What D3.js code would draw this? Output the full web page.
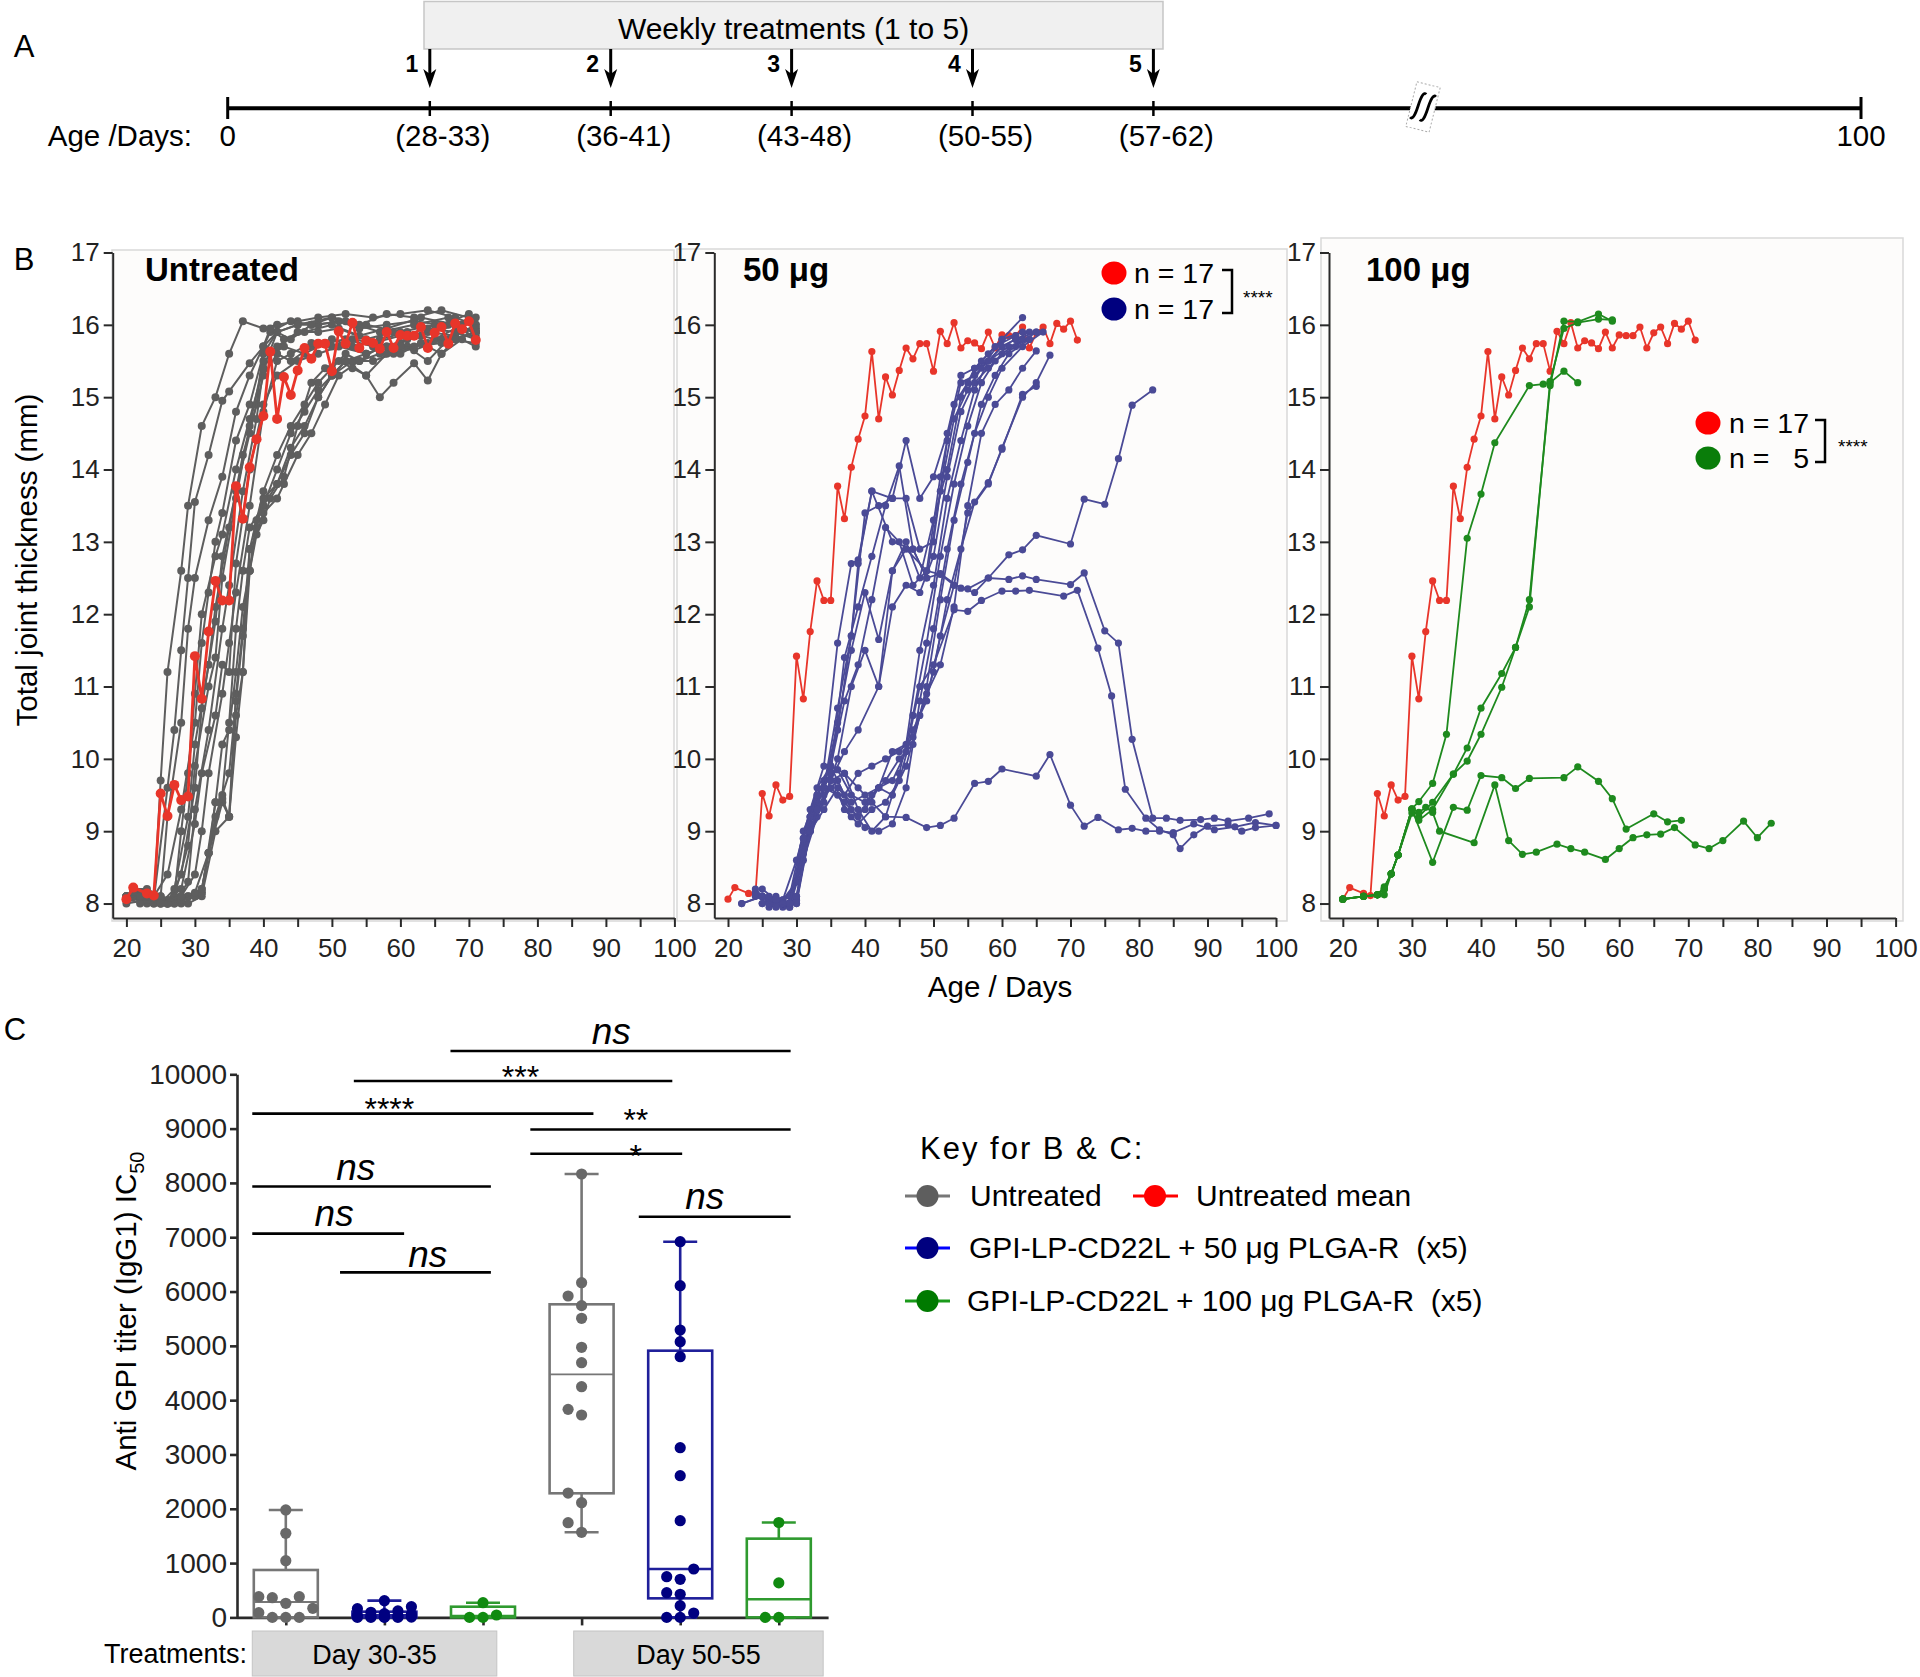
<!DOCTYPE html>
<html><head><meta charset="utf-8">
<script src="https://cdn.jsdelivr.net/npm/d3@7"></script>
<style>
body{margin:0;background:#fff}
svg text{font-family:Arial,"Liberation Sans",Helvetica,sans-serif}
</style></head>
<body>
<svg id="fig" width="1920" height="1677"></svg>
<script>
// ---------------- DATA ----------------
// Panel A
const headerLabel = "Weekly treatments (1 to 5)";
const treatmentNumbers = [1,2,3,4,5];
const treatmentAgeLabels = ["(28-33)","(36-41)","(43-48)","(50-55)","(57-62)"];
const timelineEndLabels = ["0","100"];

// Panel B
const dayTicks = [20,25,30,35,40,45,50,55,60,65,70,75,80,85,90,95,100];
const thicknessTicks = [8,9,10,11,12,13,14,15,16,17];
const panelTitles = ["Untreated","50 \u03bcg","100 \u03bcg"];
const untreatedMeanDays = [20,21,23,24,25,26,27,28,29,30,31,32,33,34,35,36,37,38,39,40,41,42,43,44,45,46,47,48,49,50,51,52,53,54,55,56,57,58,59,60,61,62,63,64,65,66,67,68,69,70,71];
const untreatedMeanValues = [8.06,8.22,8.14,8.11,9.52,9.21,9.64,9.43,9.48,11.42,10.83,11.76,12.46,12.19,12.19,13.77,13.32,14.03,14.42,14.74,15.63,14.70,15.28,15.03,15.37,15.68,15.53,15.74,15.74,15.36,15.91,15.74,16.03,15.68,15.78,15.75,15.67,15.90,15.68,15.86,15.85,15.85,15.97,15.68,15.89,15.97,15.74,16.02,15.94,16.05,15.79];

const untreatedMice = [
 [[20,8.1],[21,8.2],[23,8.15],[24,8.0],[25,9.7],[26,11.2],[28,12.6],[29,13.5],[31,14.6],[33,15.0],[35,15.6],[37,16.05],[40,15.95],[42,16.0],[45,16.05],[48,16.1],[52,16.15],[56,16.1],[60,16.15],[64,16.2],[68,16.1],[71,16.0]],
 [[20,8.05],[22,8.1],[24,8.05],[26,9.6],[27,10.4],[28,11.5],[29,12.5],[30,13.55],[32,14.2],[34,14.95],[35,15.08],[38,15.47],[40,15.7],[41,15.9],[44,16.05],[47,16.0],[50,16.1],[54,16.0],[58,16.15],[62,16.1],[66,16.2],[70,16.1],[71,15.95]],
 [[21,8.2],[23,8.2],[25,8.1],[26,9.2],[28,10.5],[29,11.8],[30,12.5],[32,13.3],[34,13.9],[36,14.8],[38,15.3],[40,15.7],[42,15.9],[45,16.0],[48,16.0],[51,16.05],[54,15.95],[58,16.0],[62,16.05],[66,16.0],[70,16.15]],
 [[20,8.1],[22,8.15],[24,8.1],[26,8.4],[28,9.3],[30,10.5],[31,11.6],[32,12.3],[33,13.0],[34,13.4],[36,14.4],[38,14.9],[40,15.6],[42,15.9],[45,16.0],[50,16.1],[55,16.0],[60,15.9],[65,16.0],[70,16.05]],
 [[21,8.1],[23,8.1],[25,8.05],[27,8.1],[28,9.0],[29,9.8],[30,10.9],[31,12.0],[33,12.8],[34,13.1],[36,14.0],[38,14.7],[40,15.4],[42,15.9],[44,15.8],[47,16.0],[52,16.05],[57,15.9],[62,16.0],[67,16.1],[71,15.8]],
 [[20,8.05],[23,8.1],[25,8.0],[27,8.2],[29,9.2],[30,10.2],[32,11.3],[33,12.1],[35,13.2],[37,14.2],[39,14.9],[40,15.7],[41,15.95],[43,15.8],[46,15.9],[50,16.0],[54,15.85],[58,15.95],[63,16.1],[68,16.0],[71,15.9]],
 [[21,8.15],[24,8.1],[26,8.0],[28,8.4],[30,9.6],[31,10.7],[33,11.9],[34,12.8],[36,13.7],[38,14.5],[40,15.3],[42,15.6],[44,15.5],[47,15.7],[50,15.8],[53,15.7],[57,15.8],[61,15.9],[65,15.8],[69,16.0],[71,15.85]],
 [[20,8.1],[22,8.05],[25,8.05],[27,8.1],[29,8.8],[30,9.9],[32,11.0],[33,11.4],[34,12.5],[36,13.6],[38,14.6],[40,15.5],[43,15.7],[46,15.6],[49,15.75],[52,15.8],[56,15.7],[60,15.75],[64,15.9],[68,15.85],[71,16.0]],
 [[21,8.2],[24,8.1],[26,8.05],[28,8.2],[30,9.1],[31,9.8],[33,10.6],[34,11.3],[35,11.2],[36,12.7],[38,14.0],[40,14.9],[42,15.3],[45,15.5],[48,15.6],[51,15.7],[55,15.6],[58,15.7],[62,15.65],[66,15.8],[71,15.95]],
 [[20,8.0],[23,8.05],[25,8.0],[27,8.0],[29,8.3],[30,9.3],[32,10.4],[34,11.8],[35,12.4],[37,13.7],[39,14.7],[40,15.4],[42,15.7],[45,15.9],[48,15.9],[51,15.95],[55,15.8],[59,15.9],[63,15.85],[67,16.0],[71,16.1]],
 [[21,8.1],[23,8.0],[26,8.0],[28,8.1],[30,8.4],[31,9.0],[32,9.8],[34,10.9],[35,11.6],[36,12.3],[38,13.5],[40,14.8],[42,15.5],[44,15.6],[47,15.75],[50,15.7],[53,15.8],[56,15.75],[60,15.85],[64,15.95],[68,15.9],[71,15.8]],
 [[20,8.05],[24,8.0],[27,8.0],[29,8.1],[31,8.2],[32,8.7],[34,9.5],[35,10.5],[36,11.8],[37,12.6],[38,13.2],[40,13.5],[42,14.0],[44,14.5],[46,14.8],[48,15.1],[50,15.3],[53,15.5],[56,15.5],[59,15.6],[62,15.7],[66,15.75],[71,15.9]],
 [[21,8.1],[24,8.05],[27,8.05],[29,8.1],[31,8.15],[33,9.4],[34,10.2],[35,10.4],[36,11.2],[37,12.1],[38,12.6],[39,13.3],[40,13.5],[42,13.8],[44,14.3],[46,14.6],[48,15.0],[50,15.3],[52,15.5],[55,15.3],[58,15.6],[61,15.7],[64,15.5],[67,15.8],[71,15.75]],
 [[20,8.1],[23,8.05],[26,8.0],[29,8.0],[31,8.1],[33,9.0],[35,9.2],[36,10.3],[37,11.2],[38,12.6],[39,13.1],[40,13.4],[42,13.6],[43,13.8],[45,14.2],[47,14.5],[49,14.9],[51,15.3],[54,15.5],[57,15.6],[60,15.7],[64,15.75],[68,15.8],[71,15.9]],
 [[22,8.0],[25,8.1],[28,8.0],[30,8.1],[31,8.15],[32,8.7],[34,9.4],[35,9.2],[36,10.9],[37,11.8],[38,12.9],[40,13.3],[41,13.6],[43,13.9],[45,14.6],[47,15.2],[49,15.4],[51,15.5],[53,15.4],[55,15.3],[57,15.0],[59,15.2],[62,15.47],[64,15.23],[66,15.6],[68,15.8],[71,15.9]],
 [[20,8.1],[23,8.1],[26,8.0],[28,8.05],[30,8.1],[31,8.2],[32,8.7],[33,9.2],[35,9.8],[36,10.8],[37,11.7],[38,12.6],[39,13.2],[40,13.6],[42,13.8],[44,14.2],[46,14.5],[48,15.0],[50,15.3],[52,15.5],[55,15.6],[58,15.7],[61,15.8],[65,15.9],[68,16.0],[71,15.8]],
 [[20,8.05],[22,8.1],[25,8.0],[28,8.1],[30,8.15],[32,8.7],[33,9.4],[34,9.45],[35,9.2],[36,10.6],[37,11.2],[38,12.9],[40,13.7],[42,14.2],[44,14.6],[46,14.9],[48,15.2],[50,15.4],[52,15.6],[54,15.5],[57,15.7],[60,15.6],[63,15.75],[66,15.6],[69,15.8],[71,15.7]]
];

const treated50Mice = [
 [[22,8.0],[25,8.1],[28,8.05],[30,8.6],[32,9.3],[34,9.9],[36,11.6],[38,12.7],[39,12.75],[41,13.7],[44,13.6],[46,14.4],[48,13.6],[50,13.9],[52,14.5],[54,15.3],[56,15.4],[58,15.6],[60,15.8],[63,16.1]],
 [[24,8.2],[26,8.0],[28,8.0],[30,8.3],[32,9.2],[34,9.6],[36,10.7],[38,11.7],[40,13.4],[42,13.5],[44,13.6],[46,13.6],[48,12.9],[50,13.0],[52,14.4],[54,15.2],[56,15.3],[58,15.5],[60,15.7],[62,15.8],[64,15.9]],
 [[25,8.1],[27,8.0],[29,8.0],[31,8.8],[33,9.4],[35,9.8],[37,11.4],[39,12.1],[41,12.8],[43,13.5],[45,14.05],[47,12.9],[49,12.5],[51,13.7],[53,14.7],[55,15.1],[57,15.4],[60,15.8],[63,15.9]],
 [[25,8.2],[27,8.05],[29,8.1],[31,9.0],[33,9.5],[35,9.9],[37,10.8],[39,11.3],[41,12.2],[43,13.2],[45,13.0],[47,12.4],[49,12.6],[51,13.9],[53,14.9],[55,15.2],[57,15.5],[59,15.7],[62,15.85]],
 [[26,8.0],[28,7.95],[30,8.0],[32,9.1],[34,9.6],[36,10.5],[38,11.5],[40,12.3],[42,11.65],[44,12.6],[46,13.0],[48,12.5],[50,13.3],[52,14.0],[54,15.0],[56,15.4],[58,15.5],[61,15.7],[64,15.8]],
 [[26,7.95],[28,8.0],[30,8.05],[32,9.0],[34,9.4],[36,10.0],[38,11.0],[40,11.5],[42,11.0],[44,12.1],[46,12.4],[48,12.3],[50,12.8],[52,13.9],[54,14.8],[56,15.2],[58,15.4],[60,15.6],[63,15.8]],
 [[24,8.15],[26,8.05],[28,8.0],[30,8.1],[32,9.2],[34,9.7],[36,9.85],[38,9.5],[40,9.4],[42,9.6],[44,10.1],[46,10.2],[48,11.5],[50,12.4],[52,13.6],[54,14.4],[56,15.1],[58,15.5],[60,15.7],[62,15.8],[65,15.9]],
 [[25,8.1],[27,8.0],[29,7.95],[31,8.6],[33,9.2],[35,9.7],[37,9.8],[39,9.3],[41,9.0],[43,9.2],[45,9.8],[47,10.6],[49,11.6],[51,12.8],[53,13.8],[55,14.6],[57,15.2],[59,15.5],[62,15.7],[65,15.9]],
 [[26,8.05],[28,8.0],[30,8.0],[32,9.0],[34,9.5],[36,9.7],[38,9.3],[40,9.05],[42,9.0],[44,9.1],[46,9.6],[48,10.8],[50,11.8],[52,12.9],[54,13.8],[56,14.5],[58,15.0],[60,15.4],[63,15.7],[66,15.9]],
 [[27,8.0],[29,7.95],[31,8.7],[33,9.3],[35,9.6],[37,9.4],[39,9.2],[41,9.5],[43,9.7],[45,10.0],[47,10.2],[49,11.0],[51,12.2],[53,13.3],[55,14.1],[57,14.9],[59,15.3],[61,15.6],[64,15.8]],
 [[25,8.0],[27,8.1],[29,8.0],[31,8.9],[33,9.6],[35,9.9],[37,9.5],[39,9.8],[41,9.9],[43,10.0],[45,10.1],[47,10.3],[49,10.9],[51,11.3],[53,12.1],[55,13.5],[57,14.5],[59,14.9],[61,15.1],[63,15.4],[65,15.64]],
 [[26,8.1],[28,8.0],[30,8.05],[32,9.1],[34,9.6],[36,9.5],[38,9.2],[40,9.3],[42,9.6],[44,9.5],[46,9.9],[48,10.6],[50,11.2],[52,12.2],[54,12.9],[56,13.55],[58,13.82],[60,14.28],[63,15.04],[65,15.15]],
 [[27,8.05],[29,8.0],[31,8.8],[33,9.4],[35,9.8],[37,9.3],[39,9.1],[41,9.3],[43,9.4],[45,9.7],[47,10.4],[49,10.8],[51,11.7],[53,12.4],[55,13.4],[58,13.8],[60,14.3],[63,15.0],[65,15.2],[67,15.58]],
 [[24,8.1],[26,8.0],[28,8.05],[30,8.3],[32,9.2],[34,9.6],[36,10.4],[38,11.7],[39,12.7],[41,13.7],[44,13.0],[47,12.9],[49,12.5],[51,12.56],[54,12.36],[56,12.3],[58,12.5],[61,12.82],[63,12.89],[65,13.09],[70,12.97],[72,13.59],[75,13.52],[77,14.15],[79,14.89],[82,15.1]],
 [[25,8.0],[27,8.05],[29,8.0],[31,8.7],[33,9.3],[35,9.7],[37,10.1],[39,10.4],[42,11.0],[44,12.6],[46,12.9],[49,12.6],[51,12.55],[53,12.4],[55,12.35],[58,12.5],[61,12.48],[63,12.53],[65,12.48],[70,12.41],[72,12.57],[75,11.77],[77,11.6],[79,10.27],[82,9.18],[84,9.18],[86,9.15],[89,9.16],[91,9.18],[93,9.14],[96,9.18],[99,9.24]],
 [[26,8.0],[28,8.0],[30,8.1],[32,9.0],[34,9.3],[36,9.6],[38,9.4],[40,9.5],[42,9.6],[44,9.7],[46,10.1],[48,11.0],[50,11.3],[53,12.06],[55,12.04],[57,12.19],[60,12.32],[62,12.32],[64,12.33],[69,12.25],[71,12.33],[74,11.53],[76,10.87],[78,9.58],[81,9.18],[83,9.02],[85,8.95],[86,8.76],[88,8.95],[90,9.07],[93,9.09],[95,9.0],[97,9.05],[100,9.08]],
 [[22,8.0],[25,8.1],[27,7.95],[29,8.0],[31,8.9],[33,9.5],[35,9.9],[37,9.8],[39,9.6],[41,9.4],[43,9.2],[46,9.19],[49,9.05],[51,9.08],[53,9.18],[56,9.66],[58,9.69],[60,9.86],[65,9.76],[67,10.06],[70,9.36],[72,9.07],[74,9.19],[77,9.02],[79,9.04],[81,9.0],[83,9.0],[85,8.98],[88,9.1],[91,9.02],[94,9.06],[97,9.12],[100,9.08]]
];

const treated100Mice = [
 [[20,8.06],[23,8.1],[25,8.12],[26,8.23],[27,8.41],[28,8.67],[30,9.31],[31,9.41],[33,9.66],[35,10.34],[38,13.05],[40,13.66],[42,14.37],[47,15.16],[49,15.18],[50,15.2],[52,15.36],[54,15.2]],
 [[20,8.06],[23,8.1],[25,8.12],[26,8.12],[27,8.41],[28,8.67],[30,9.3],[31,9.2],[33,9.4],[36,9.79],[38,10.15],[40,10.7],[43,11.18],[45,11.54],[47,12.2],[50,15.16],[52,16.05],[54,16.04],[57,16.15],[59,16.05]],
 [[20,8.06],[23,8.1],[25,8.12],[26,8.2],[27,8.41],[28,8.67],[30,9.25],[31,9.15],[33,9.3],[36,9.79],[38,9.97],[40,10.34],[43,10.99],[45,11.54],[47,12.1],[50,15.22],[52,15.95],[54,16.03],[57,16.08],[59,16.07]],
 [[20,8.06],[23,8.1],[25,8.12],[26,8.2],[27,8.41],[28,8.67],[30,9.31],[31,9.26],[32,9.33],[33,9.26],[34,9.0],[39,8.84],[42,9.64],[44,8.87],[46,8.68],[48,8.71],[51,8.82],[53,8.76],[55,8.71],[58,8.61],[60,8.76],[62,8.91],[64,8.95],[66,8.96],[68,9.05],[71,8.81],[73,8.76],[75,8.87],[78,9.14],[80,8.91],[82,9.11]],
 [[20,8.06],[23,8.1],[25,8.12],[26,8.2],[27,8.41],[28,8.67],[30,9.3],[33,8.57],[36,9.33],[38,9.29],[40,9.77],[43,9.74],[45,9.59],[47,9.73],[52,9.74],[54,9.89],[57,9.69],[59,9.45],[61,9.03],[65,9.24],[67,9.13],[69,9.15]]
];

const panel2Legend = ["n = 17","n = 17"];
const panel3Legend = ["n = 17","n =   5"];
const significanceB = "****";

// Panel C
const titerTicks = [0,1000,2000,3000,4000,5000,6000,7000,8000,9000,10000];
const groupKeys = ["untreated","50","100","untreated","50","100"];
const untreatedDay30 = [1978,1548,1044,382,381,363,260,167,87,0,0,0];
const treated50Day30 = [308,197,160,120,95,70,60,40,30,20,10,5,0,0,0,0];
const treated100Day30 = [271,44,0,0];
const untreatedDay50 = [8164,6163,5918,5740,5507,4973,4690,4248,3831,3727,2290,2112,1744,1567];
const treated50Day50 = [6918,6108,5292,5077,4800,3125,2609,1781,891,750,701,455,425,216,80,0,0];
const treated100Day50 = [1747,635,0,0];
const boxMin    = [0,0,0,1567,0,0];
const boxQ1     = [0,0,0,2285,351,0];
const boxMedian = [284,40,25,4476,891,333];
const boxQ3     = [873,105,197,5765,4911,1450];
const boxMax    = [1978,308,271,8164,6918,1747];
const periodLabels = ["Day 30-35","Day 50-55"];
const sigFrom  = [1.67,0.69,-0.34,2.48,2.48,-0.34,-0.34,0.55,3.58];
const sigTo    = [5.12,3.92,3.12,5.12,4.02,2.08,1.2,2.08,5.12];
const sigLevel = [10430,9876,9276,8983,8537,7933,7066,6352,7378];
const sigText  = ["ns","***","****","**","*","ns","ns","ns","ns"];
const sigTextAt= [3.3,2.38,1.05,3.55,3.55,0.71,0.49,1.44,4.25];
// glyph-centre lift above each bar (px) - style
const sigLift  = [16.5,12,12.6,17.5,5.7,16,17.6,15.4,17.2];

const keyTitle = "Key for B & C:";
const keyLabels = ["Untreated","Untreated mean","GPI-LP-CD22L + 50 \u03bcg PLGA-R  (x5)","GPI-LP-CD22L + 100 \u03bcg PLGA-R  (x5)"];

// ---------------- STYLE ----------------
const COL = {
  gray:"#5e5e5e", red:"#e8352a", blue:"#4a4a96", green:"#1e8a1e",
  cGray:"#686868", cBlue:"#000080", cGreen:"#108a10",
  bGray:"#767676", bBlue:"#1f1f9a", bGreen:"#2f9a2f",
  axis:"#2a2a2a"
};
const svg = d3.select("#fig");
svg.append("rect").attr("width",1920).attr("height",1677).attr("fill","#fff");

// ---------------- PANEL A ----------------
(function(){
  const g = svg.append("g");
  g.append("text").attr("x",24).attr("y",57).attr("text-anchor","middle").attr("font-size",31).text("A");
  g.append("rect").attr("x",424).attr("y",1.5).attr("width",739).attr("height",47.5)
    .attr("fill","#f0f0f0").attr("stroke","#c6c6c6").attr("stroke-width",1.5);
  g.append("text").attr("x",793.5).attr("y",38.5).attr("text-anchor","middle").attr("font-size",30).text(headerLabel);
  const tx = d3.scaleLinear().domain([1,5]).range([429.8,1153.4]);
  const xStart = 227.7, xEnd = 1861, yL = 108.3;
  g.append("line").attr("x1",xStart).attr("x2",xEnd).attr("y1",yL).attr("y2",yL).attr("stroke","#000").attr("stroke-width",4);
  [xStart,xEnd].forEach(x=>g.append("line").attr("x1",x).attr("x2",x).attr("y1",97).attr("y2",119).attr("stroke","#000").attr("stroke-width",3));
  treatmentNumbers.forEach((n,i)=>{
    const x = tx(n);
    g.append("line").attr("x1",x).attr("x2",x).attr("y1",101).attr("y2",116).attr("stroke","#000").attr("stroke-width",2.5);
    g.append("line").attr("x1",x).attr("x2",x).attr("y1",49).attr("y2",78).attr("stroke","#000").attr("stroke-width",3);
    g.append("path").attr("d",`M${x-6.5},69 L${x},88 L${x+6.5},69 L${x},74 Z`).attr("fill","#000");
    g.append("text").attr("x",x-18).attr("y",72).attr("text-anchor","middle").attr("font-size",23).attr("font-weight","bold").text(n);
    g.append("text").attr("x",x+13).attr("y",146).attr("text-anchor","middle").attr("font-size",29.5).text(treatmentAgeLabels[i]);
  });
  g.append("text").attr("x",192).attr("y",146).attr("text-anchor","end").attr("font-size",29.5).text("Age /Days:");
  g.append("text").attr("x",xStart).attr("y",146).attr("text-anchor","middle").attr("font-size",29.5).text(timelineEndLabels[0]);
  g.append("text").attr("x",xEnd).attr("y",146).attr("text-anchor","middle").attr("font-size",29.5).text(timelineEndLabels[1]);
  const bk = g.append("g").attr("transform","translate(1423,107) rotate(14)");
  bk.append("rect").attr("x",-12).attr("y",-23).attr("width",24).attr("height",46)
    .attr("fill","#fff").attr("stroke","#aaa").attr("stroke-width",1).attr("stroke-dasharray","2,2");
  [-5,5].forEach(dx=>{
    bk.append("path").attr("d",`M${dx-5},13 Q${dx-1},16 ${dx},0 Q${dx+1},-16 ${dx+5},-13`)
      .attr("fill","none").attr("stroke","#000").attr("stroke-width",2.8);
  });
})();

// ---------------- PANEL B ----------------
svg.append("text").attr("x",24).attr("y",270).attr("text-anchor","middle").attr("font-size",31).text("B");
svg.append("text").attr("transform","translate(37,560) rotate(-90)").attr("text-anchor","middle").attr("font-size",29.5).text("Total joint thickness (mm)");
svg.append("text").attr("x",1000).attr("y",997).attr("text-anchor","middle").attr("font-size",29.5).text("Age / Days");

const yB = d3.scaleLinear().domain([7.8,17]).range([918,252.5]);
const meanPts = untreatedMeanDays.map((d,i)=>[d,untreatedMeanValues[i]]);

function panelB(cfg){
  const g = svg.append("g");
  g.append("rect").attr("x",cfg.frame[0]).attr("y",cfg.frame[1]).attr("width",cfg.frame[2]-cfg.frame[0]).attr("height",921-cfg.frame[1])
    .attr("fill","#fdfcfb").attr("stroke","#d9d9d9").attr("stroke-width",1.5);
  const x = d3.scaleLinear().domain([18,100]).range(cfg.xr);
  const ax = g.append("g").attr("transform","translate(0,918)")
    .call(d3.axisBottom(x).tickValues(dayTicks).tickFormat(d=>d%10===0?d:"").tickSize(9).tickSizeOuter(0).tickPadding(12));
  ax.selectAll(".tick text").filter(function(){return this.textContent==="";}).remove();
  const ay = g.append("g").attr("transform",`translate(${cfg.xr[0]},0)`)
    .call(d3.axisLeft(yB).tickValues(thicknessTicks).tickSize(9).tickSizeOuter(0).tickPadding(4));
  [ax,ay].forEach(a=>{
    a.selectAll("path,line").attr("stroke",COL.axis).attr("stroke-width",2);
    a.selectAll("text").attr("font-size",26).attr("fill","#222").attr("font-family",null);
  });
  g.append("text").attr("x",cfg.titleX).attr("y",281).attr("font-size",33).attr("font-weight","bold").text(cfg.title);
  const line = d3.line().x(d=>x(d[0])).y(d=>yB(d[1]));
  const drawSet = (set,color,sw,r)=>{
    set.forEach(s=>{
      g.append("path").datum(s).attr("d",line).attr("fill","none").attr("stroke",color).attr("stroke-width",sw);
      g.append("g").selectAll("circle").data(s).join("circle").attr("cx",d=>x(d[0])).attr("cy",d=>yB(d[1])).attr("r",r).attr("fill",color);
    });
  };
  cfg.draw(drawSet);
  return g;
}

panelB({frame:[112,250,674],xr:[112.7,674.4],title:panelTitles[0],titleX:145,
  draw:(ds)=>{ ds(untreatedMice,COL.gray,2,4); ds([meanPts],COL.red,2.8,5); }});
const p2 = panelB({frame:[677,249,1287],xr:[714.3,1276],title:panelTitles[1],titleX:743,
  draw:(ds)=>{ ds([meanPts],COL.red,1.8,3.6); ds(treated50Mice,COL.blue,1.8,3.6); }});
const p3 = panelB({frame:[1321,238,1903],xr:[1329,1895.6],title:panelTitles[2],titleX:1366,
  draw:(ds)=>{ ds([meanPts],COL.red,1.8,3.6); ds(treated100Mice,COL.green,1.8,3.6); }});

function nLegend(g,cx,ys,colors,labels,textRight,bx,starX){
  ys.forEach((y,i)=>{
    g.append("ellipse").attr("cx",cx).attr("cy",y).attr("rx",12.5).attr("ry",11.5).attr("fill",colors[i]);
    g.append("text").attr("x",textRight).attr("y",y+10).attr("text-anchor","end").attr("font-size",28.5).attr("xml:space","preserve").text(labels[i]);
  });
  const y0 = ys[0]-3, y1 = ys[1]+4;
  g.append("path").attr("d",`M${bx},${y0} H${bx+10} V${y1} H${bx}`).attr("fill","none").attr("stroke","#000").attr("stroke-width",2.5);
  g.append("text").attr("x",starX).attr("y",(y0+y1)/2+12).attr("font-size",19).text(significanceB);
}
nLegend(p2,1114,[273,309],["#ff0000","#00007f"],panel2Legend,1214,1222,1243);
nLegend(p3,1708,[423,458],["#ff0000","#0a7d0a"],panel3Legend,1809,1815,1838);

// ---------------- PANEL C ----------------
svg.append("text").attr("x",15).attr("y",1040).attr("text-anchor","middle").attr("font-size",31).text("C");
const xC = d3.scaleLinear().domain([-0.5,5.5]).range([236.5,828.1]);
const yC = d3.scaleLinear().domain([0,10000]).range([1617.4,1074.3]);
const gC = svg.append("g");
const ycAx = gC.append("g").attr("transform","translate(237,0)")
  .call(d3.axisLeft(yC).tickValues(titerTicks).tickFormat(d=>d).tickSize(7).tickSizeOuter(0).tickPadding(3));
const xcAx = gC.append("g").attr("transform","translate(0,1617.4)")
  .call(d3.axisBottom(xC).tickValues(d3.range(groupKeys.length)).tickFormat("").tickSize(8).tickSizeOuter(0));
xcAx.selectAll(".tick text").remove();
[ycAx,xcAx].forEach(a=>{
  a.selectAll("path,line").attr("stroke",COL.axis).attr("stroke-width",2.6);
  a.selectAll("text").attr("font-size",28).attr("fill","#222").attr("font-family",null);
});
gC.append("text").attr("transform","translate(136,1311) rotate(-90)").attr("text-anchor","middle").attr("font-size",29.5)
  .text("Anti GPI titer (IgG1) IC").append("tspan").attr("font-size",20).attr("dy",8).text("50");

const groupValues = [untreatedDay30,treated50Day30,treated100Day30,untreatedDay50,treated50Day50,treated100Day50];
const pointCol = {untreated:COL.cGray,"50":COL.cBlue,"100":COL.cGreen};
const boxCol = {untreated:COL.bGray,"50":COL.bBlue,"100":COL.bGreen};

function swarm(vals,cx){
  const r = 5.6, s = 13.5, maxK = 2;
  const placed = [];
  const cand = [0]; for(let k=1;k<=maxK;k++){cand.push(-k*s,k*s);}
  vals.slice().sort((a,b)=>a-b).forEach(v=>{
    const py = yC(v);
    let best=null,bestD=-1;
    for(const o of cand){
      const px = cx+o;
      let md = Infinity;
      placed.forEach(p=>{ md = Math.min(md, Math.hypot(p.x-px,p.y-py)); });
      if(md >= 2*r){ best=px; bestD=md; break; }
      if(md>bestD){bestD=md;best=px;}
    }
    placed.push({x:best,y:py});
  });
  return {pts:placed,r};
}

groupKeys.forEach((k,i)=>{
  const cx = xC(i), hw = 32, cw = 17;
  const bg = gC.append("g").attr("stroke",boxCol[k]).attr("fill","none");
  bg.append("line").attr("x1",cx).attr("x2",cx).attr("y1",yC(boxMax[i])).attr("y2",yC(boxQ3[i])).attr("stroke-width",2.6);
  bg.append("line").attr("x1",cx).attr("x2",cx).attr("y1",yC(boxQ1[i])).attr("y2",yC(boxMin[i])).attr("stroke-width",2.6);
  bg.append("line").attr("x1",cx-cw).attr("x2",cx+cw).attr("y1",yC(boxMax[i])).attr("y2",yC(boxMax[i])).attr("stroke-width",2.6);
  bg.append("line").attr("x1",cx-cw).attr("x2",cx+cw).attr("y1",yC(boxMin[i])).attr("y2",yC(boxMin[i])).attr("stroke-width",2.6);
  bg.append("rect").attr("x",cx-hw).attr("y",yC(boxQ3[i])).attr("width",2*hw).attr("height",yC(boxQ1[i])-yC(boxQ3[i])).attr("stroke-width",2.6);
  bg.append("line").attr("x1",cx-hw).attr("x2",cx+hw).attr("y1",yC(boxMedian[i])).attr("y2",yC(boxMedian[i])).attr("stroke-width",k==="untreated"?1.8:2.4);
  const sw = swarm(groupValues[i],cx);
  gC.append("g").selectAll("circle").data(sw.pts).join("circle")
    .attr("cx",d=>d.x).attr("cy",d=>d.y).attr("r",sw.r).attr("fill",pointCol[k]);
});

// treatment period boxes
gC.append("text").attr("x",247).attr("y",1663).attr("text-anchor","end").attr("font-size",27).text("Treatments:");
[[-0.34,2.14],[2.92,5.45]].forEach((ext,i)=>{
  const x0 = xC(ext[0]), x1 = xC(ext[1]);
  gC.append("rect").attr("x",x0).attr("y",1631).attr("width",x1-x0).attr("height",45)
    .attr("fill","#d9d9d9").attr("stroke","#c4c4c4").attr("stroke-width",1);
  gC.append("text").attr("x",(x0+x1)/2).attr("y",1664).attr("text-anchor","middle").attr("font-size",27).text(periodLabels[i]);
});

// significance bars
sigText.forEach((t,i)=>{
  const yy = yC(sigLevel[i]);
  gC.append("line").attr("x1",xC(sigFrom[i])).attr("x2",xC(sigTo[i])).attr("y1",yy).attr("y2",yy).attr("stroke","#000").attr("stroke-width",2.6);
  const isNs = t==="ns";
  const fs = isNs?37:32;
  const centre = yy - sigLift[i];
  const base = isNs ? centre + 0.26*fs : centre + 0.585*fs;
  gC.append("text").attr("x",xC(sigTextAt[i])).attr("y",base)
    .attr("text-anchor","middle").attr("font-size",fs).attr("font-style",isNs?"italic":null).text(t);
});

// ---------------- KEY ----------------
(function(){
  const g = svg.append("g");
  g.append("text").attr("x",920).attr("y",1159).attr("font-size",31).attr("letter-spacing",2).text(keyTitle);
  const rows = [
    {lx:[905,950],cx:927.5,y:1196,col:"#5e5e5e",tx:970,label:keyLabels[0],lc:"#777"},
    {lx:[1133,1178],cx:1155,y:1196,col:"#ff0000",tx:1196,label:keyLabels[1],lc:"#ff0000"},
    {lx:[905,950],cx:927.5,y:1248,col:"#00007f",tx:969,label:keyLabels[2],lc:"#0000ff"},
    {lx:[905,950],cx:927.5,y:1301,col:"#007a00",tx:967,label:keyLabels[3],lc:"#1a9a1a"}
  ];
  rows.forEach(r=>{
    g.append("line").attr("x1",r.lx[0]).attr("x2",r.lx[1]).attr("y1",r.y).attr("y2",r.y).attr("stroke",r.lc).attr("stroke-width",3);
    g.append("ellipse").attr("cx",r.cx).attr("cy",r.y).attr("rx",11).attr("ry",11).attr("fill",r.col);
    g.append("text").attr("x",r.tx).attr("y",r.y+10).attr("font-size",30).attr("xml:space","preserve").text(r.label);
  });
})();
</script>
</body></html>
